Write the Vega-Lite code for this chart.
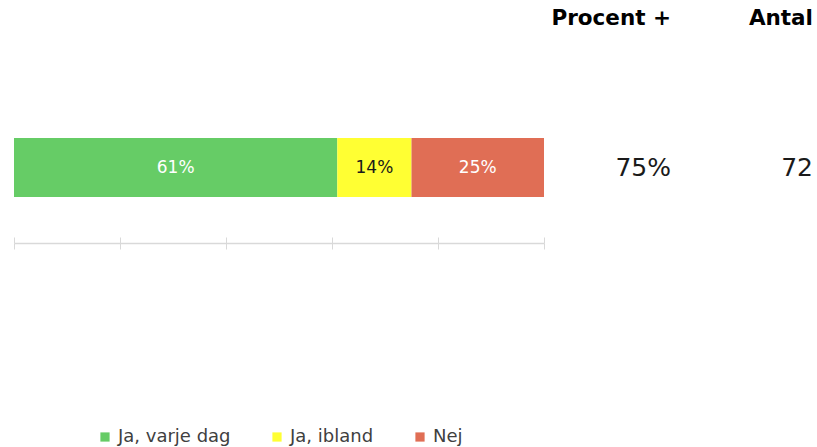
{
  "$schema": "https://vega.github.io/schema/vega-lite/v6.json",
  "background": "white",
  "padding": {"left": 13, "top": 8, "right": 5, "bottom": 3},
  "bounds": "flush",
  "spacing": 20,
  "config": {"view": {"stroke": null}, "font": "DejaVu Sans"},
  "datasets": {
    "svar": [
      {"svar": "Ja, varje dag", "andel": 0.61, "ordning": 1},
      {"svar": "Ja, ibland", "andel": 0.14, "ordning": 2},
      {"svar": "Nej", "andel": 0.25, "ordning": 3}
    ],
    "summa": [
      {"procent": 0.75, "antal": 72}
    ]
  },
  "hconcat": [
    {
      "width": 530,
      "height": 151,
      "data": {"name": "svar"},
      "encoding": {
        "y": {"datum": "rad", "type": "nominal", "axis": null, "scale": {"paddingInner": 0, "paddingOuter": 0.7797}}
      },
      "resolve": {"axis": {"x": "independent"}},
      "layer": [
        {
          "mark": {"type": "bar"},
          "encoding": {
            "x": {"field": "andel", "type": "quantitative", "stack": "zero",
                  "scale": {"domain": [0, 1], "nice": false},
                  "axis": {"orient": "bottom", "values": [0, 0.2, 0.4, 0.6, 0.8, 1], "labels": false, "title": null, "grid": false,
                           "domainColor": "#d9d9d9", "tickColor": "#d9d9d9", "tickSize": 6, "domainWidth": 1.5}},
            "order": {"field": "ordning"},
            "color": {"field": "svar", "type": "nominal",
                      "scale": {"domain": ["Ja, varje dag", "Ja, ibland", "Nej"], "range": ["#66CC66", "#FFFF33", "#E06E55"]},
                      "legend": {"orient": "none", "legendX": 82, "legendY": 336, "title": null, "direction": "horizontal",
                                 "symbolType": "square", "symbolSize": 85, "symbolStrokeWidth": 0,
                                 "labelFontSize": 18, "labelColor": "#404040", "labelOffset": 4, "columnPadding": 37}}
          }
        },
        {
          "mark": {"type": "text", "baseline": "middle", "align": "center", "fontSize": 17},
          "encoding": {
            "x": {"field": "andel", "type": "quantitative", "stack": "zero", "bandPosition": 0.5,
                  "axis": {"orient": "bottom", "values": [0, 0.2, 0.4, 0.6, 0.8, 1], "labels": false, "title": null, "grid": false,
                           "domain": false, "tickColor": "#d9d9d9", "tickSize": -6}},
            "order": {"field": "ordning"},
            "text": {"field": "andel", "type": "quantitative", "format": ".0%"},
            "color": {"condition": {"test": "datum.svar === 'Ja, ibland'", "value": "#1a1a1a"}, "value": "white"}
          }
        }
      ]
    },
    {
      "width": 107,
      "height": 151,
      "data": {"name": "summa"},
      "title": {"text": "Procent +", "anchor": "end", "frame": "group", "fontSize": 21.5, "fontWeight": "bold", "offset": 62.5, "color": "black"},
      "mark": {"type": "text", "align": "right", "baseline": "middle", "fontSize": 25, "color": "#1a1a1a"},
      "encoding": {
        "x": {"value": "width"},
        "y": {"datum": "rad", "type": "nominal", "axis": null, "scale": {"paddingInner": 0, "paddingOuter": 0.7797}},
        "text": {"field": "procent", "type": "quantitative", "format": ".0%"}
      }
    },
    {
      "width": 122,
      "height": 151,
      "data": {"name": "summa"},
      "title": {"text": "Antal", "anchor": "end", "frame": "group", "fontSize": 21.5, "fontWeight": "bold", "offset": 62.5, "color": "black"},
      "mark": {"type": "text", "align": "right", "baseline": "middle", "fontSize": 25, "color": "#1a1a1a"},
      "encoding": {
        "x": {"value": "width"},
        "y": {"datum": "rad", "type": "nominal", "axis": null, "scale": {"paddingInner": 0, "paddingOuter": 0.7797}},
        "text": {"field": "antal", "type": "quantitative"}
      }
    }
  ]
}
